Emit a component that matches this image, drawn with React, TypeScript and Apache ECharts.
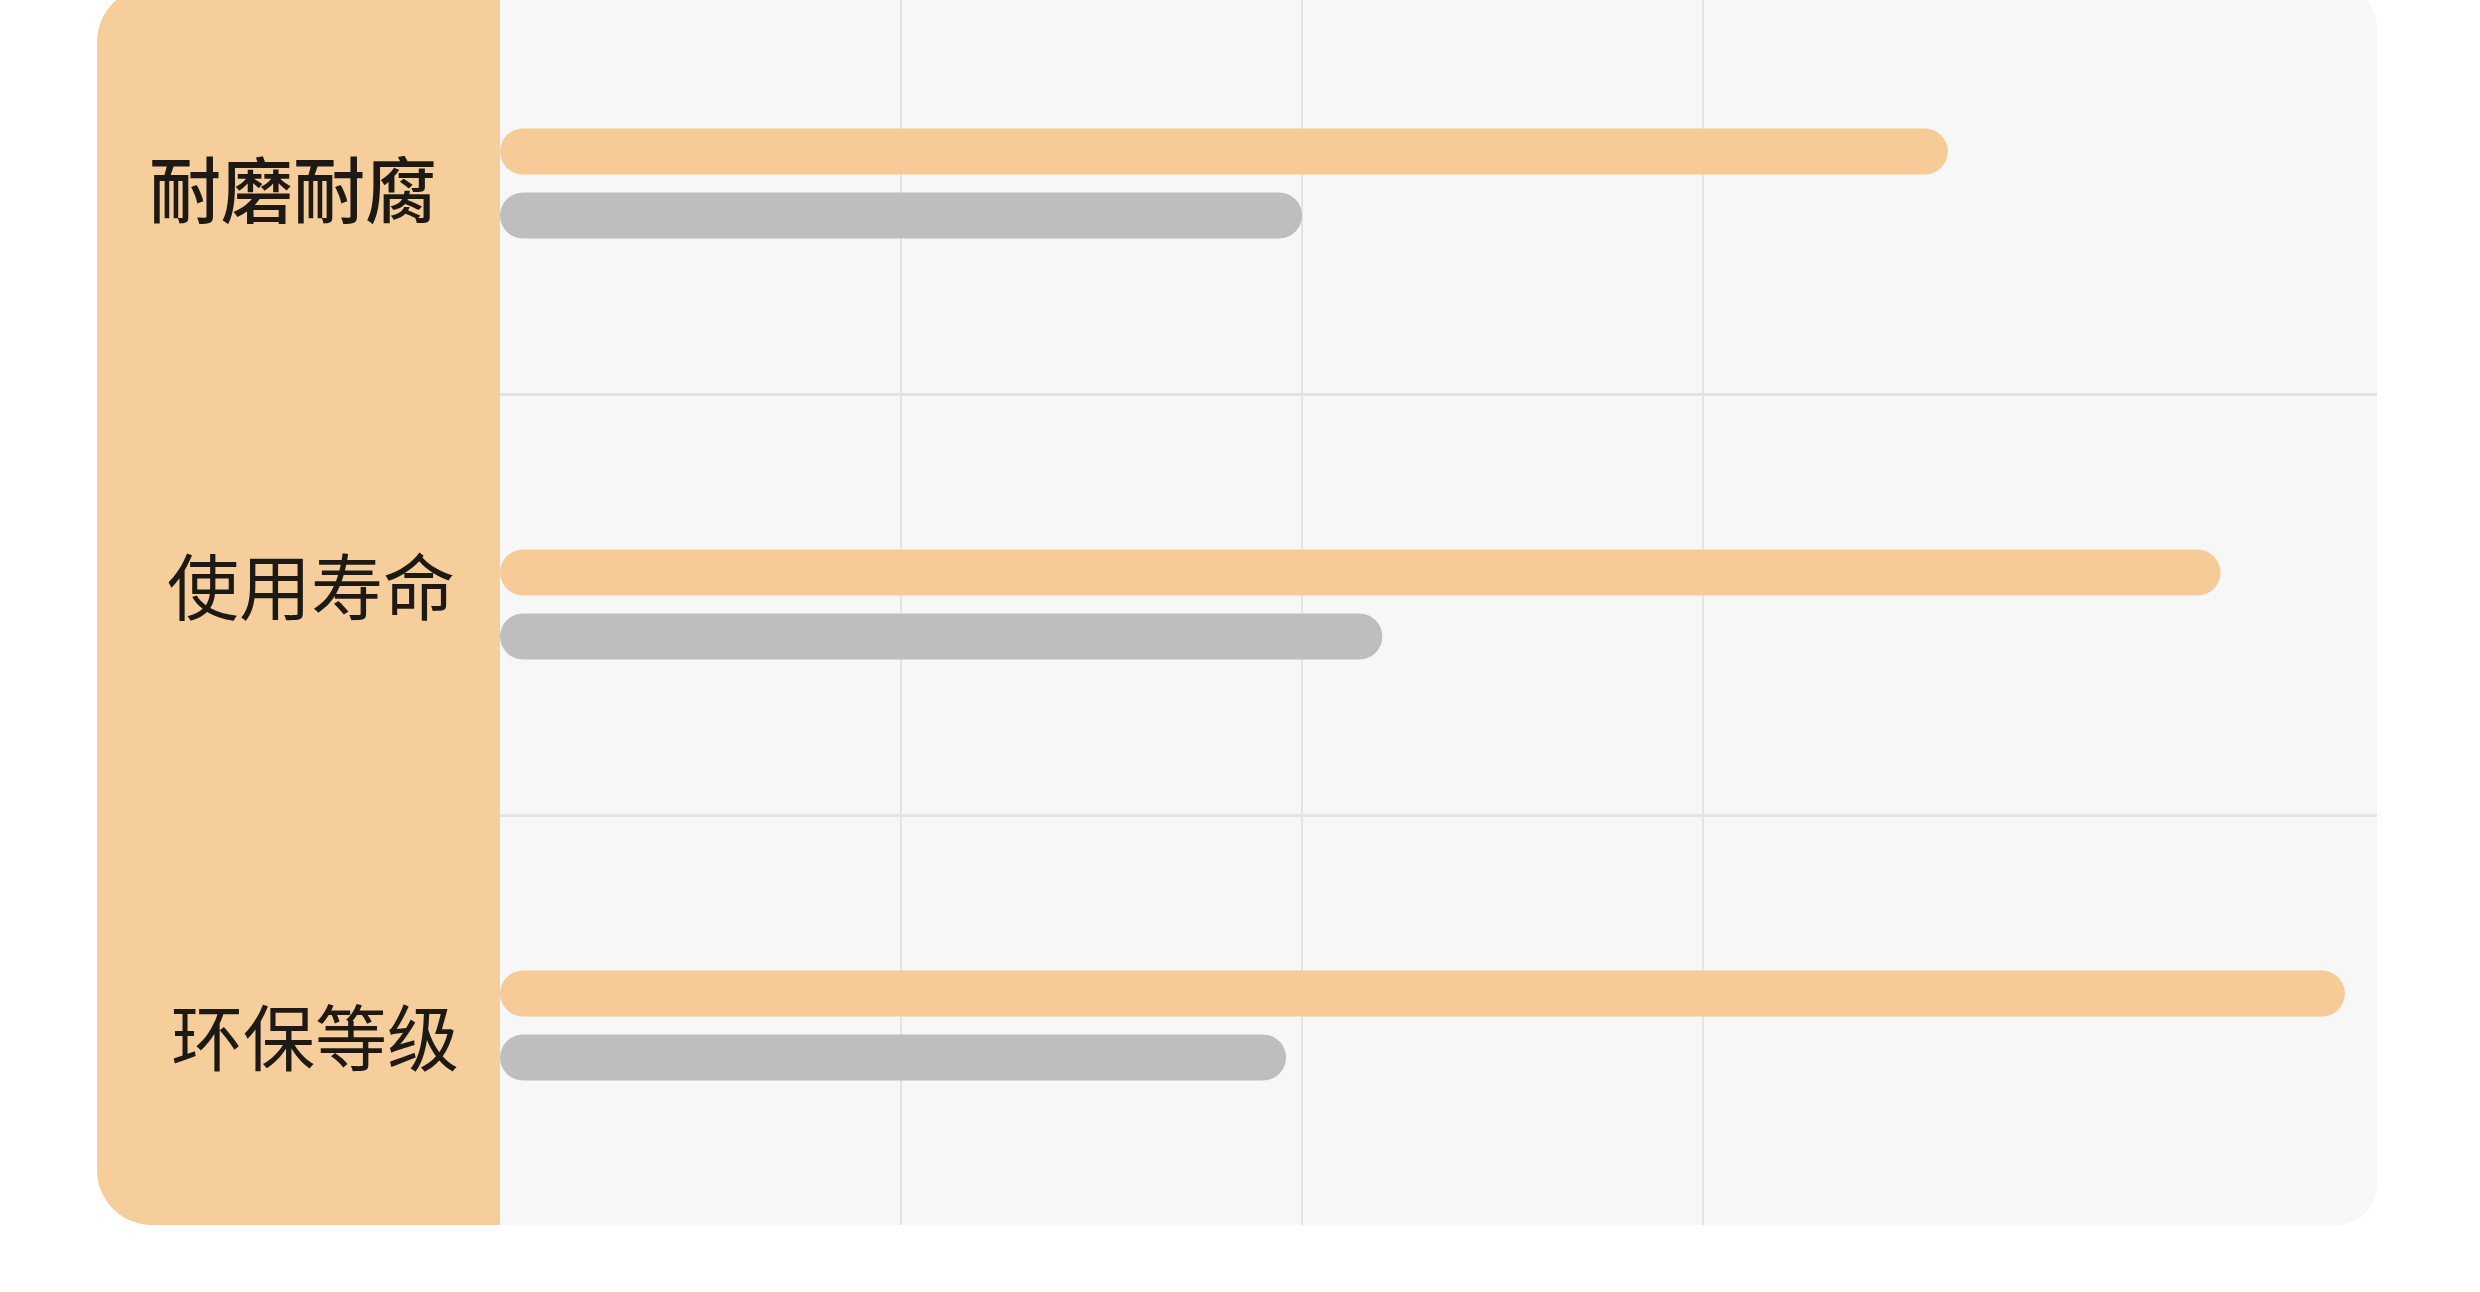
import React, { useEffect, useRef } from "react";
import * as echarts from "echarts";

// Comparison of two products across three quality dimensions
const categories = ["耐磨耐腐", "使用寿命", "环保等级"];
const ourValues = [3.61, 4.29, 4.6];
const otherValues = [2.0, 2.2, 1.96];
const axisMax = 4.68;

const ORANGE = "#f6cb97";
const PANEL = "#f5ce9c";
const GRAY = "#bebebf";
const GRID_LINE = "#e4e4e4";
const BG = "#f7f7f7";
const CLEAR = "rgba(0,0,0,0)";

export default function App() {
  const ref = useRef<HTMLDivElement>(null);

  useEffect(() => {
    if (!ref.current) return;
    const chart = echarts.init(ref.current, null, { renderer: "svg" });

    // per-label nudges so each name sits centred in the side panel
    const base = { fontSize: 72, color: "#1e1915", fontFamily: "Noto Sans CJK SC" };
    const rich: Record<string, any> = {
      c0: { ...base, fontWeight: 500, padding: [4, 26, 0, 0] },
      c1: { ...base, fontWeight: 400, padding: [0, 0, 44, 10] },
      c2: { ...base, fontWeight: 400, padding: [16, 0, 0, 18] },
    };

    chart.setOption({
      animation: false,
      backgroundColor: "#ffffff",
      graphic: [
        {
          type: "rect",
          z: -10,
          shape: { x: 498, y: -13, width: 1879, height: 1238, r: [0, 40, 40, 0] },
          style: { fill: BG },
        },
        {
          type: "rect",
          z: -10,
          shape: { x: 97, y: -13, width: 403, height: 1238, r: [55, 0, 0, 55] },
          style: { fill: PANEL },
        },
        // the plot area ends at the card's lower edge
        {
          type: "rect",
          z: 50,
          shape: { x: 498, y: 1225, width: 1900, height: 40 },
          style: { fill: "#ffffff" },
        },
      ],
      grid: {
        left: 500,
        right: 103,
        top: -27,
        height: 1263,
        containLabel: false,
        outerBoundsMode: "none",
      },
      xAxis: {
        type: "value",
        min: 0,
        max: axisMax,
        interval: 1,
        axisLine: { show: false },
        axisTick: { show: false },
        axisLabel: { show: false },
        splitLine: {
          show: true,
          showMinLine: false,
          showMaxLine: false,
          lineStyle: {
            color: [GRID_LINE, GRID_LINE, GRID_LINE, CLEAR, CLEAR],
            width: 2,
          },
        },
      },
      yAxis: {
        type: "category",
        inverse: true,
        data: categories,
        axisLine: { show: false },
        axisTick: { show: false },
        axisLabel: {
          show: true,
          align: "center",
          margin: 194,
          formatter: (v: string, i: number) => `{c${i}|${v}}`,
          rich,
        },
        splitLine: {
          show: true,
          showMinLine: false,
          showMaxLine: false,
          lineStyle: { color: GRID_LINE, width: 3 },
        },
      },
      series: [
        {
          name: "ours",
          type: "bar",
          data: ourValues,
          barWidth: 46,
          barGap: "39%",
          itemStyle: { color: ORANGE, borderRadius: 23 },
          z: 3,
        },
        {
          name: "others",
          type: "bar",
          data: otherValues,
          barWidth: 46,
          itemStyle: { color: GRAY, borderRadius: 23 },
          z: 3,
        },
      ],
    });

    return () => chart.dispose();
  }, []);

  return (
    <div
      ref={ref}
      style={{ position: "fixed", left: 0, top: 0, width: 2480, height: 1292 }}
    />
  );
}
